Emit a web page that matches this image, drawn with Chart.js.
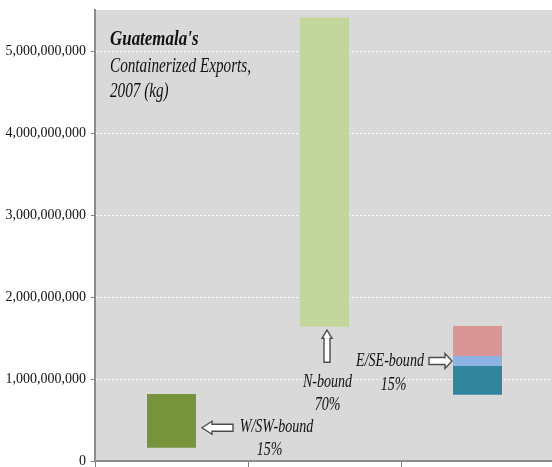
<!DOCTYPE html>
<html><head><meta charset="utf-8">
<script src="https://cdn.jsdelivr.net/npm/chart.js@4"></script>
<style>html,body{margin:0;padding:0;background:#fff;overflow:hidden}#wrap{width:552px;height:467px;overflow:hidden}</style>
</head><body><div id="wrap"><canvas id="c" width="554" height="467"></canvas></div>
<script>
const categories = ['W/SW-bound', 'N-bound', 'E/SE-bound'];
const shares = ['15%', '70%', '15%'];
const wswRange = [0.162e9, 0.817e9];
const nRange = [1.638e9, 5.41e9];
const eseLower = [0.809e9, 1.159e9];
const eseMiddle = [1.159e9, 1.28e9];
const eseUpper = [1.28e9, 1.646e9];
const yTicks = [0, 1e9, 2e9, 3e9, 4e9, 5e9];
const yMax = 5.5e9;
const titleLines = ["Guatemala's", 'Containerized Exports,', '2007 (kg)'];

const bg = {
  id: 'bg',
  beforeDraw(chart) {
    const {ctx, chartArea: a} = chart;
    ctx.save(); ctx.fillStyle = '#D9D9D9';
    ctx.fillRect(a.left, a.top, a.right - a.left, a.bottom - a.top);
    ctx.restore();
  }
};

function arrow(ctx, tipX, tipY, dir, len, head, hw, sw) {
  ctx.save();
  ctx.translate(tipX, tipY);
  const rot = {left: 0, up: Math.PI / 2, right: Math.PI}[dir];
  ctx.rotate(rot);
  ctx.beginPath();
  ctx.moveTo(0, 0);
  ctx.lineTo(head, -hw);
  ctx.lineTo(head, -sw);
  ctx.lineTo(len, -sw);
  ctx.lineTo(len, sw);
  ctx.lineTo(head, sw);
  ctx.lineTo(head, hw);
  ctx.closePath();
  ctx.fillStyle = '#fff'; ctx.fill();
  ctx.lineWidth = 1.4; ctx.strokeStyle = '#4d4d4d'; ctx.stroke();
  ctx.restore();
}

function ctext(ctx, s, x, y, font, sx) {
  ctx.save();
  ctx.font = font;
  ctx.translate(x, y);
  ctx.scale(sx, 1);
  ctx.fillText(s, 0, 0);
  ctx.restore();
}

const LBL = 'italic 18px "Liberation Serif"';
const SX = 0.78;

const notes = {
  id: 'notes',
  afterDatasetsDraw(chart) {
    const {ctx, scales: {x, y}} = chart;
    ctx.save();
    ctx.fillStyle = '#111';
    ctx.textBaseline = 'alphabetic';
    ctx.textAlign = 'left';
    const tl = x.left + 15;
    ctext(ctx, titleLines[0], tl, 45, 'italic bold 22px "Liberation Serif"', 0.77);
    ctext(ctx, titleLines[1], tl, 72, 'italic 20px "Liberation Serif"', 0.76);
    ctext(ctx, titleLines[2], tl, 97, 'italic 20px "Liberation Serif"', 0.76);

    const half = 24.5;
    ctx.textAlign = 'center';
    const x0 = x.getPixelForValue(0);
    const yW = y.getPixelForValue(wswRange[0]) - 20;
    arrow(ctx, x0 + half + 6, yW, 'left', 31, 10, 6.5, 3.5);
    ctext(ctx, categories[0], x0 + 105, yW + 4, LBL, SX);
    ctext(ctx, shares[0], x0 + 98, yW + 27, LBL, SX);
    const x1 = x.getPixelForValue(1);
    const yN = y.getPixelForValue(nRange[0]) + 3.5;
    arrow(ctx, x1 + 2.5, yN, 'up', 32, 8, 5, 3);
    ctext(ctx, categories[1], x1 + 3, yN + 57, LBL, SX);
    ctext(ctx, shares[1], x1 + 3, yN + 80, LBL, SX);
    const x2 = x.getPixelForValue(2);
    const yE = y.getPixelForValue(eseLower[1]) - 5;
    arrow(ctx, x2 - half - 1, yE, 'right', 23, 7, 7.5, 3.5);
    ctext(ctx, categories[2], x2 - 87.5, yE + 5, LBL, SX);
    ctext(ctx, shares[2], x2 - 84, yE + 29, LBL, SX);
    ctx.restore();
  }
};

const pad = (arr, i) => categories.map((_, k) => k === i ? arr : null);
const mk = (arr, i, color) => ({data: pad(arr, i), backgroundColor: color, borderWidth: 0, grouped: false, barPercentage: 0.32, categoryPercentage: 1});

new Chart(document.getElementById('c'), {
  type: 'bar',
  data: {
    labels: categories,
    datasets: [
      mk(wswRange, 0, '#77933C'),
      mk(nRange, 1, '#C3D69B'),
      mk(eseLower, 2, '#31859C'),
      mk(eseMiddle, 2, '#8EB4E3'),
      mk(eseUpper, 2, '#D99694')
    ]
  },
  options: {
    responsive: false,
    animation: false,
    layout: {padding: {top: 10, right: 0, left: 0, bottom: 0}},
    plugins: {legend: {display: false}, tooltip: {enabled: false}},
    scales: {
      x: {
        ticks: {display: false},
        grid: {drawOnChartArea: false, drawTicks: true, tickLength: 6, color: '#808080', offset: true},
        border: {color: '#8c8c8c', width: 2},
        afterFit(s) { s.height = 6; s.paddingLeft = 0; s.paddingRight = 0; }
      },
      y: {
        min: 0, max: yMax,
        afterBuildTicks(s) { s.ticks = yTicks.map(v => ({value: v})); },
        ticks: {
          includeBounds: false,
          color: '#111',
          font: {family: 'Liberation Serif', size: 14},
          padding: 5,
          callback: v => Number(v).toLocaleString('en-US')
        },
        grid: {color: '#ffffff', lineWidth: 1, tickColor: '#808080', tickLength: 4},
        border: {color: '#8c8c8c', width: 2, dash: [2, 2]},
        afterFit(s) { s.width = 95; s.paddingTop = 0; s.paddingBottom = 0; }
      }
    }
  },
  plugins: [bg, notes]
});
</script></body></html>
